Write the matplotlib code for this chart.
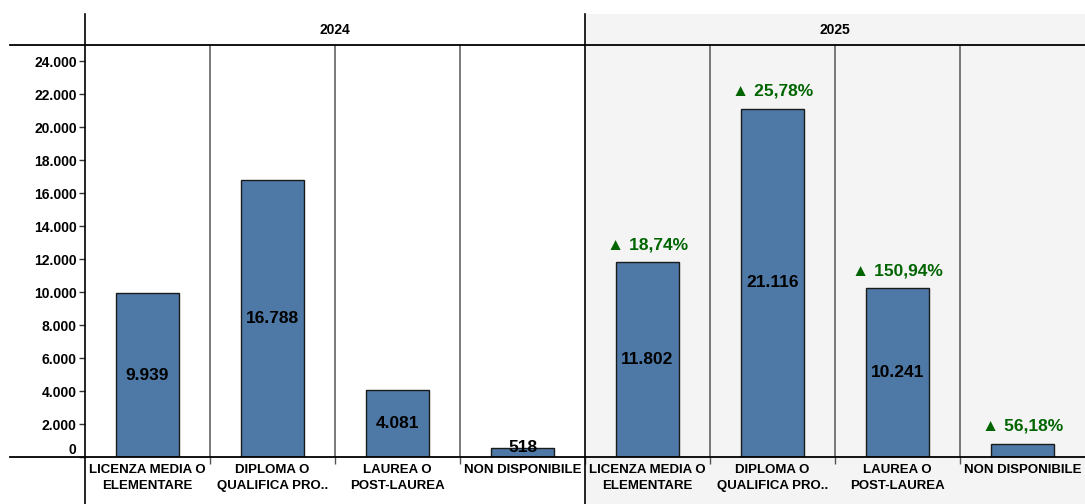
import numpy as np
import matplotlib
matplotlib.use("Agg")
import matplotlib.pyplot as plt
import matplotlib.transforms as mtransforms
from matplotlib.lines import Line2D
from matplotlib.patches import Rectangle

plt.rcParams["font.family"] = ["Liberation Sans", "DejaVu Sans"]
plt.rcParams["font.weight"] = "bold"

# --- dati ---
categories = ["LICENZA MEDIA O\nELEMENTARE", "DIPLOMA O\nQUALIFICA PRO..",
              "LAUREA O\nPOST-LAUREA", "NON DISPONIBILE"]
years = ["2024", "2025"]
values_2024 = [9939, 16788, 4081, 518]
values_2025 = [11802, 21116, 10241, 809]
pct_change = [18.74, 25.78, 150.94, 56.18]
show_value_2025 = [True, True, True, False]
y_ticks = list(range(0, 24001, 2000))

BAR_COLOR = "#4e79a7"
GREEN = "#006400"
GREY_BG = "#f4f4f4"
DIV_COLOR = "#555555"


def fmt_it(v):
    return f"{v:,}".replace(",", ".")


W, H = 1085, 504
fig = plt.figure(figsize=(W / 100, H / 100), dpi=100)
ax = fig.add_axes([85 / W, (H - 457) / H, 1 - 85 / W, (457 - 45) / H])
ax.patch.set_visible(False)

n = len(categories)
x = np.arange(2 * n)
values = values_2024 + values_2025
ax.bar(x, values, width=0.5, color=BAR_COLOR, edgecolor="#1a1a1a", linewidth=1, zorder=3)

ax.set_xlim(-0.5, 2 * n - 0.5)
ax.set_ylim(0, 24970)

# sfondo grigio per il secondo anno (anche intestazione e etichette)
blend = mtransforms.blended_transform_factory(ax.transData, fig.transFigure)
ax.add_patch(Rectangle((n - 0.5, 0), n, 1 - 14 / H, transform=blend,
                       facecolor=GREY_BG, edgecolor="none", zorder=0, clip_on=False))

# linee divisorie tra le categorie
for xd in np.arange(0.5, 2 * n - 1, 1.0):
    if xd == n - 0.5:
        continue
    ax.axvline(xd, color=DIV_COLOR, linewidth=1.1, zorder=2)

# linee verticali di asse e separazione anni (intera altezza)
for xd in [-0.5, n - 0.5]:
    ax.add_line(Line2D([xd, xd], [0, 1 - 14 / H], transform=blend, color="black",
                       linewidth=1.2, clip_on=False, zorder=4))

# linee orizzontali: intestazione e base
for yf in [1 - 45 / H, 1 - 457 / H]:
    fig.add_artist(Line2D([10 / W, 1], [yf, yf], transform=fig.transFigure,
                          color="black", linewidth=1.3, zorder=5))

# anni nell'intestazione
for i, yr in enumerate(years):
    ax.text(i * n + (n - 1) / 2, 1 - 30 / H, yr, transform=blend,
            ha="center", va="center", fontsize=10, fontweight="bold")

# etichette valori
for i, v in enumerate(values_2024):
    ax.text(x[i], max(v / 2, 600), fmt_it(v), ha="center", va="center",
            fontsize=12.5, fontweight="bold", color="black", zorder=6)
for i, v in enumerate(values_2025):
    xi = x[n + i]
    if show_value_2025[i]:
        ax.text(xi, v / 2, fmt_it(v), ha="center", va="center",
                fontsize=12.5, fontweight="bold", color="black", zorder=6)
    pct = f"▲ {pct_change[i]:.2f}%".replace(".", ",")
    ax.annotate(pct, (xi, v), xytext=(0, 7), textcoords="offset points",
                ha="center", va="bottom", fontsize=12.5, fontweight="bold",
                color=GREEN, zorder=6)

# assi
ax.set_yticks(y_ticks)
ax.set_yticklabels([fmt_it(t) for t in y_ticks], fontsize=10, fontweight="bold")
ax.tick_params(axis="y", length=4, width=1, pad=2, color="#333333")
ax.set_xticks(x)
ax.set_xticklabels(categories * 2, fontsize=9.5, fontweight="bold", linespacing=1.5)
ax.set_xticks(np.arange(0.5, 2 * n - 1, 1.0), minor=True)
ax.tick_params(axis="x", which="major", length=0, pad=5)
ax.tick_params(axis="x", which="minor", length=5, width=1, color=DIV_COLOR)
for s in ax.spines.values():
    s.set_visible(False)

# "0" leggermente rialzato come nell'originale
lbl0 = ax.get_yticklabels()[0]
lbl0.set_transform(lbl0.get_transform() + mtransforms.ScaledTranslation(0, 8 / 100, fig.dpi_scale_trans))

fig.savefig("out.png", dpi=100)
